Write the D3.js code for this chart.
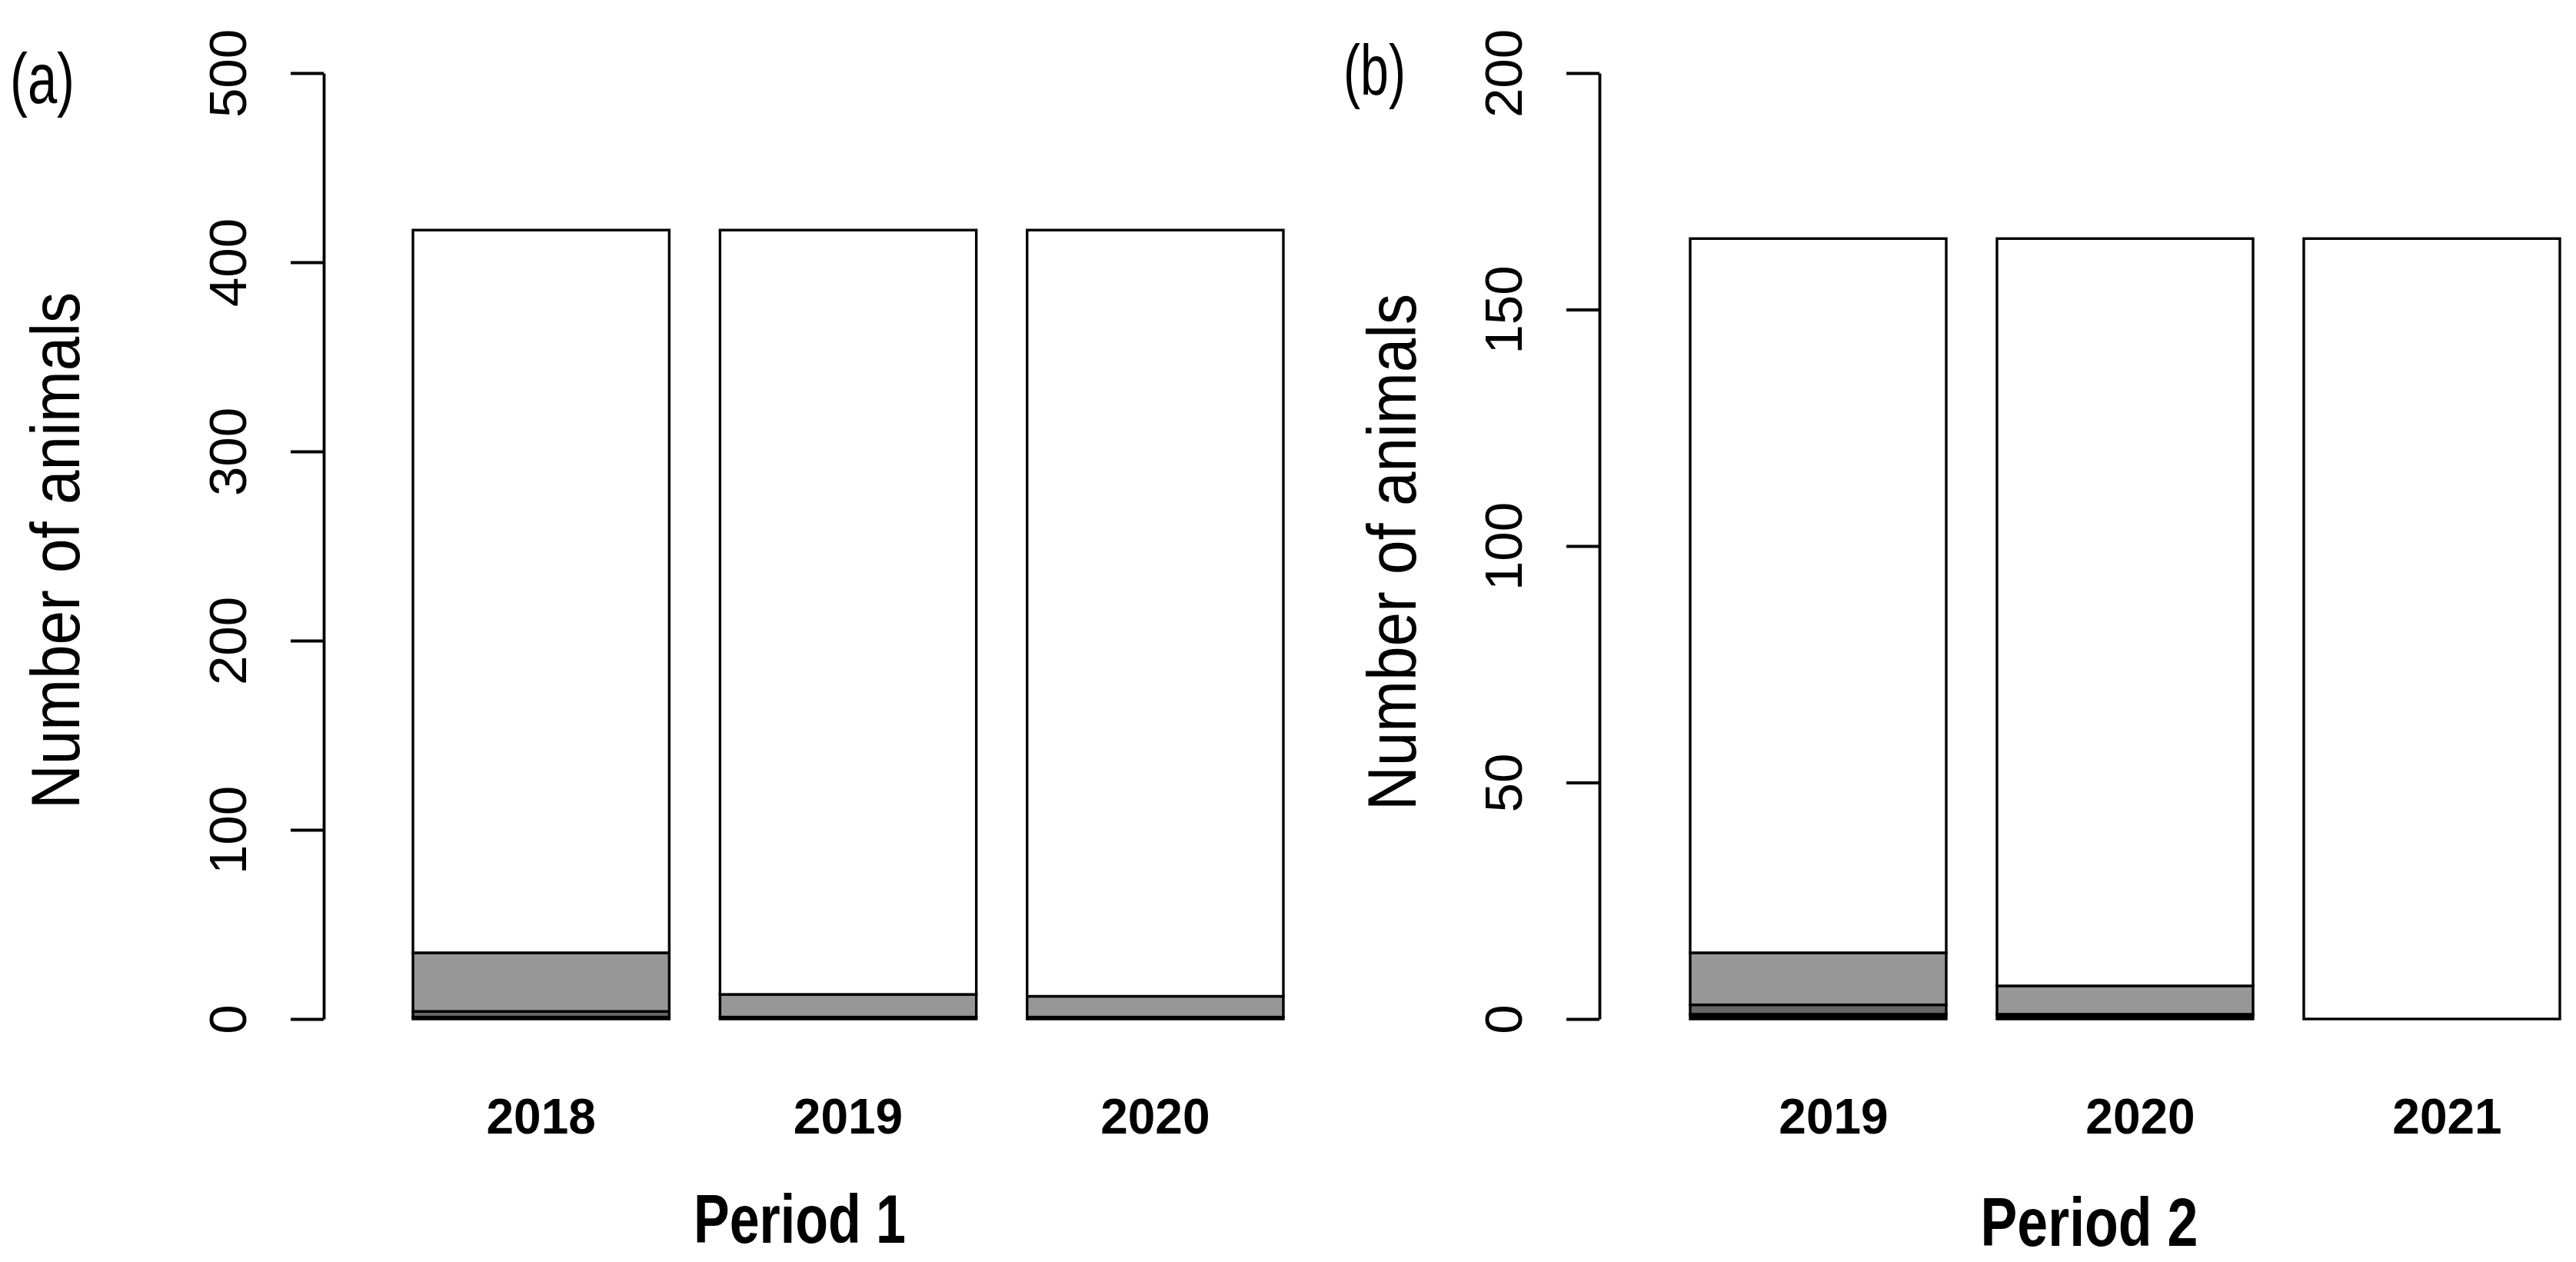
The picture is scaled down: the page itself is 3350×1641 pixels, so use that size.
<!DOCTYPE html>
<html>
<head>
<meta charset="utf-8">
<script src="https://cdn.jsdelivr.net/npm/d3@7"></script>
<style>
  html, body { margin: 0; padding: 0; background: #ffffff; }
  svg { display: block; }
  text { font-family: "Liberation Sans", Arial, Helvetica, sans-serif; fill: #000; }
</style>
</head>
<body>
<svg id="chart" width="3350" height="1641"></svg>
<script>
// ---------------- Data ----------------
// Panel (a): Period 1
const yearsP1 = ["2018", "2019", "2020"];
const blackP1 = [1, 1, 1];
const darkP1  = [3, 0, 0];
const grayP1  = [31, 12, 11];
const whiteP1 = [382, 404, 405];
const ticksP1 = [0, 100, 200, 300, 400, 500];

// Panel (b): Period 2
const yearsP2 = ["2019", "2020", "2021"];
const blackP2 = [1, 1, 0];
const darkP2  = [2, 0, 0];
const grayP2  = [11, 6, 0];
const whiteP2 = [151, 158, 165];
const ticksP2 = [0, 50, 100, 150, 200];

const seriesKeys = ["black", "dark", "gray", "white"];
const seriesColors = { black: "#000000", dark: "#666666", gray: "#979797", white: "#ffffff" };

const svg = d3.select("#chart");
svg.append("rect").attr("width", 3350).attr("height", 1641).attr("fill", "#fff");

function drawPanel(cfg) {
  const g = svg.append("g");
  const table = cfg.years.map((yr, i) => ({
    year: yr, black: cfg.black[i], dark: cfg.dark[i], gray: cfg.gray[i], white: cfg.white[i]
  }));
  const stacked = d3.stack().keys(seriesKeys)(table);

  const x = d3.scaleBand().domain(cfg.years)
    .range(cfg.xRange).paddingInner(0.1654).paddingOuter(0.0827);
  const y = d3.scaleLinear().domain([0, d3.max(cfg.ticks)]).range([1325, 95]);

  // bars
  stacked.forEach(layer => {
    g.append("g").selectAll("rect").data(layer).join("rect")
      .filter(d => d[1] - d[0] > 0)
      .attr("x", d => x(d.data.year))
      .attr("width", x.bandwidth())
      .attr("y", d => y(d[1]))
      .attr("height", d => y(d[0]) - y(d[1]))
      .attr("fill", seriesColors[layer.key])
      .attr("stroke", "#000")
      .attr("stroke-width", 3.4);
  });

  // y axis
  const ax = g.append("g").attr("transform", `translate(${cfg.axisX},0)`)
    .call(d3.axisLeft(y).tickValues(cfg.ticks).tickSize(43).tickSizeOuter(0).tickFormat(d3.format("d")));
  ax.select(".domain").attr("stroke", "#000").attr("stroke-width", 3.8);
  ax.selectAll(".tick line").attr("stroke", "#000").attr("stroke-width", 3.8);
  ax.selectAll(".tick text")
    .attr("transform", "rotate(-90)")
    .attr("x", 0).attr("y", -101).attr("dy", 0)
    .attr("text-anchor", "middle")
    .style("font-size", "69px")
    .style("font-family", '"Liberation Sans", Arial, sans-serif');

  // year labels
  g.append("g").selectAll("text").data(cfg.years).join("text")
    .attr("x", d => x(d) + x.bandwidth() / 2 + cfg.yearShift)
    .attr("y", 1474)
    .attr("text-anchor", "middle")
    .style("font-size", "64px")
    .style("font-weight", "bold")
    .text(d => d);

  // y axis title
  g.append("text")
    .attr("transform", `translate(${cfg.yTitleX},${cfg.yTitleY}) rotate(-90)`)
    .attr("text-anchor", "middle")
    .attr("textLength", 672)
    .attr("lengthAdjust", "spacingAndGlyphs")
    .style("font-size", "89px")
    .text("Number of animals");

  // x title
  g.append("text")
    .attr("x", cfg.xTitleX).attr("y", cfg.xTitleY)
    .attr("text-anchor", "middle")
    .attr("textLength", cfg.xTitleLen)
    .attr("lengthAdjust", "spacingAndGlyphs")
    .style("font-size", "89px")
    .style("font-weight", "bold")
    .text(cfg.xTitle);

  // panel letter
  g.append("text")
    .attr("x", cfg.letterX).attr("y", cfg.letterY)
    .attr("textLength", cfg.letterLen)
    .attr("lengthAdjust", "spacingAndGlyphs")
    .style("font-size", "92px")
    .text(cfg.letter);
}

drawPanel({
  years: yearsP1, black: blackP1, dark: darkP1, gray: grayP1, white: whiteP1, ticks: ticksP1,
  xRange: [504, 1702], axisX: 421, yearShift: 0,
  yTitleX: 103, yTitleY: 716,
  xTitle: "Period 1", xTitleX: 1040, xTitleY: 1616, xTitleLen: 276,
  letter: "(a)", letterX: 13, letterY: 134, letterLen: 84
});

drawPanel({
  years: yearsP2, black: blackP2, dark: darkP2, gray: grayP2, white: whiteP2, ticks: ticksP2,
  xRange: [2165, 3362], axisX: 2080, yearShift: 20,
  yTitleX: 1841, yTitleY: 718,
  xTitle: "Period 2", xTitleX: 2717, xTitleY: 1620, xTitleLen: 283,
  letter: "(b)", letterX: 1747, letterY: 123, letterLen: 81
});
</script>
</body>
</html>
